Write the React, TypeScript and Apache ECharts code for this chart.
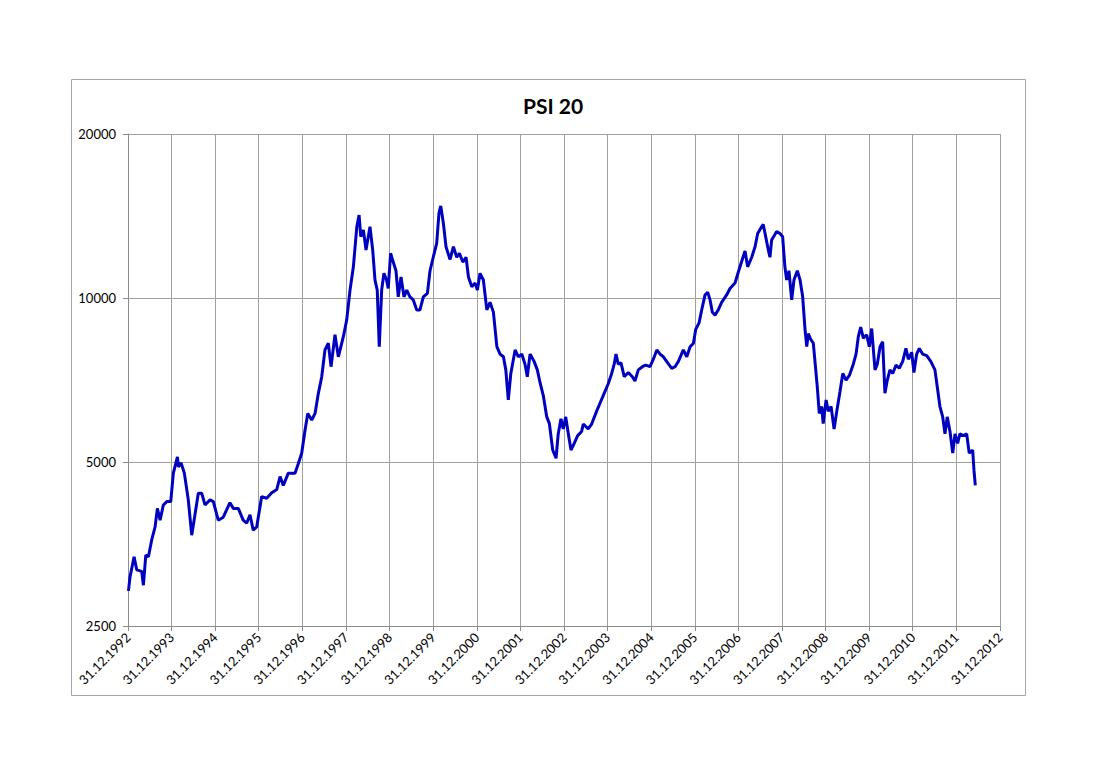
import React, { useEffect, useRef } from "react";
import * as echarts from "echarts";

const chartTitle = "PSI 20";

const yTickValues = [2500, 5000, 10000, 20000];

const xTickYears = [1992, 1993, 1994, 1995, 1996, 1997, 1998, 1999, 2000, 2001, 2002, 2003, 2004, 2005, 2006, 2007, 2008, 2009, 2010, 2011, 2012];

const dates = [
  "1993-01-04", "1993-01-17", "1993-02-20", "1993-03-14", "1993-04-25", "1993-05-09", "1993-05-29", "1993-06-20",
  "1993-07-18", "1993-08-15", "1993-09-03", "1993-09-26", "1993-10-23", "1993-11-21", "1993-12-24",
  "1994-01-15", "1994-02-18", "1994-02-26", "1994-03-21", "1994-04-17", "1994-05-20", "1994-06-18", "1994-07-15",
  "1994-08-12", "1994-09-10", "1994-10-07", "1994-11-18", "1994-12-16",
  "1995-01-26", "1995-03-09", "1995-05-04", "1995-06-01", "1995-07-13", "1995-08-23", "1995-09-21", "1995-10-19",
  "1995-11-15", "1995-12-14",
  "1996-01-25", "1996-03-07", "1996-04-18", "1996-05-30", "1996-06-27", "1996-07-24", "1996-09-04", "1996-10-30",
  "1996-11-27", "1996-12-25",
  "1997-01-22", "1997-02-14", "1997-03-19", "1997-04-16", "1997-05-14", "1997-06-11", "1997-07-08", "1997-08-05",
  "1997-08-28", "1997-09-30", "1997-10-28", "1997-12-09",
  "1998-01-06", "1998-02-03", "1998-03-03", "1998-04-01", "1998-04-20", "1998-05-04", "1998-05-26", "1998-06-17",
  "1998-07-20", "1998-08-12", "1998-08-31", "1998-09-19", "1998-10-06", "1998-10-26", "1998-11-14", "1998-12-06",
  "1998-12-20",
  "1999-01-09", "1999-01-31", "1999-02-23", "1999-03-14", "1999-04-06", "1999-05-01", "1999-05-24", "1999-06-20",
  "1999-07-18", "1999-08-16", "1999-09-12", "1999-10-10", "1999-11-13", "1999-12-05",
  "2000-01-01", "2000-01-30", "2000-02-18", "2000-03-04", "2000-03-26", "2000-04-17", "2000-05-21", "2000-06-18",
  "2000-07-16", "2000-08-07", "2000-09-05", "2000-10-02", "2000-10-22", "2000-11-19", "2000-12-17",
  "2001-01-05", "2001-01-27", "2001-02-24", "2001-03-25", "2001-04-21", "2001-05-19", "2001-06-17", "2001-07-14",
  "2001-08-11", "2001-08-31", "2001-09-21", "2001-10-12", "2001-11-17", "2001-12-14",
  "2002-01-12", "2002-02-08", "2002-02-27", "2002-03-22", "2002-04-25", "2002-05-22", "2002-06-14", "2002-07-11",
  "2002-08-09", "2002-08-31", "2002-09-28", "2002-10-26", "2002-11-13", "2002-12-06", "2002-12-25",
  "2003-01-15", "2003-02-06", "2003-02-28", "2003-03-27", "2003-04-25", "2003-05-28", "2003-06-11", "2003-07-22",
  "2003-08-20", "2003-10-01", "2003-10-29", "2003-11-25",
  "2004-01-06", "2004-02-04", "2004-02-25", "2004-03-11", "2004-03-30", "2004-04-22", "2004-05-19", "2004-06-22",
  "2004-07-26", "2004-08-17", "2004-09-14", "2004-10-18", "2004-11-15", "2004-12-21",
  "2005-01-18", "2005-02-16", "2005-03-15", "2005-04-12", "2005-05-18", "2005-06-21", "2005-07-19", "2005-08-16",
  "2005-09-26", "2005-10-25", "2005-11-22", "2005-12-20",
  "2006-01-08", "2006-02-05", "2006-02-27", "2006-03-27", "2006-04-18", "2006-05-08", "2006-05-27", "2006-06-18",
  "2006-07-16", "2006-08-13", "2006-09-24", "2006-10-22", "2006-12-03", "2006-12-31",
  "2007-02-02", "2007-02-25", "2007-03-19", "2007-04-22", "2007-05-20", "2007-06-11", "2007-07-14", "2007-07-28",
  "2007-08-17", "2007-09-08", "2007-09-22", "2007-10-06", "2007-11-17", "2007-12-15",
  "2008-01-06", "2008-01-25", "2008-02-09", "2008-02-28", "2008-03-22", "2008-04-10", "2008-05-08", "2008-05-31",
  "2008-06-22", "2008-07-12", "2008-07-26", "2008-08-08", "2008-08-28", "2008-09-19", "2008-10-03", "2008-10-22",
  "2008-11-08", "2008-11-28", "2008-12-11",
  "2009-01-04", "2009-01-23", "2009-02-15", "2009-03-12", "2009-04-04", "2009-05-01", "2009-05-24", "2009-06-20",
  "2009-07-18", "2009-08-20", "2009-09-12", "2009-10-01", "2009-10-21", "2009-11-12", "2009-12-10",
  "2010-01-01", "2010-01-21", "2010-02-18", "2010-03-09", "2010-04-01", "2010-04-23", "2010-05-12", "2010-06-01",
  "2010-06-23", "2010-07-16", "2010-08-13", "2010-09-09", "2010-10-08", "2010-11-04", "2010-11-24", "2010-12-22",
  "2011-01-10", "2011-02-02", "2011-02-24", "2011-03-24", "2011-04-27", "2011-05-31", "2011-07-05", "2011-07-24",
  "2011-08-16", "2011-09-08", "2011-09-27", "2011-10-16", "2011-11-08", "2011-12-01", "2011-12-20",
  "2012-01-11", "2012-01-30", "2012-02-27", "2012-03-27", "2012-04-17", "2012-05-16", "2012-05-27", "2012-06-07",
];

const values = [
  2900, 3075, 3350, 3170, 3150, 2970, 3375, 3350,
  3600, 3800, 4110, 3910, 4170, 4230, 4230,
  4770, 5110, 4900, 4980, 4770, 4260, 3670, 4000,
  4380, 4380, 4170, 4260, 4230,
  3910, 3960, 4210, 4110, 4110, 3910, 3860, 4000,
  3750, 3800,
  4320, 4290, 4390, 4450, 4700, 4530, 4770, 4770,
  4970, 5190,
  5720, 6140, 5970, 6140, 6690, 7170, 8030, 8260,
  7480, 8560, 7800, 8490,
  9110, 10340, 11410, 13520, 14200, 12960, 13330, 12250,
  13520, 12250, 10790, 10340, 8140, 10340, 11100, 10790,
  10410,
  12080, 11640, 11220, 10050, 10930, 10050, 10340, 10050,
  9920, 9510, 9510, 10050, 10200, 11220,
  11880, 12600, 14310, 14760, 13720, 12420, 11770, 12420,
  11880, 12080, 11640, 11880, 10930, 10490, 10650,
  10340, 11100, 10790, 9510, 9820, 9420, 8140, 7890,
  7800, 7380, 6500, 7270, 8030, 7800,
  7890, 7560, 7170, 7890, 7650, 7380, 6990, 6620,
  6050, 5880, 5260, 5080, 5630, 6000, 5750,
  6050, 5630, 5260, 5410, 5590, 5690, 5870, 5750,
  5870, 6200, 6410, 6620,
  6960, 7270, 7560, 7890, 7560, 7600, 7170, 7300,
  7170, 7040, 7380, 7480, 7530, 7480,
  7720, 8030, 7890, 7800, 7600, 7430, 7480, 7650,
  8030, 7800, 8140, 8260,
  8760, 9000, 9510, 10130, 10250, 9920, 9420, 9300,
  9510, 9820, 10130, 10410, 10650, 11160,
  11770, 12200, 11410, 11880, 12420, 13130, 13520, 13640,
  12960, 12250, 11880, 12780, 13250, 13130,
  12960, 11410, 10790, 11220, 9920, 10790, 11220, 10790,
  10050, 8740, 8140, 8600, 8400, 8260, 7650, 6880,
  6140, 6320, 5880,
  6500, 6200, 6320, 5750, 6200, 6740, 7270, 7070,
  7210, 7560, 7890, 8490, 8840, 8440, 8560,
  8140, 8790, 7380, 7560, 8140, 8310, 6690, 7070,
  7380, 7270, 7530, 7430, 7650, 8080, 7720, 7950,
  7300, 7890, 8080, 7890, 7840, 7650, 7380, 6880,
  6320, 6050, 5630, 6050, 5690, 5190, 5630,
  5410, 5630, 5590, 5630, 5190, 5260, 4830, 4530,
];

const FONT = "Lato, 'Open Sans', sans-serif";

export default function App() {
  const ref = useRef<HTMLDivElement>(null);

  useEffect(() => {
    document.body.style.margin = "0";
    if (!ref.current) return;
    const chart = echarts.init(ref.current, null, { renderer: "svg" });

    const xTicks = xTickYears.map((y) => new Date(y, 11, 31).getTime());
    const seriesData = dates.map((d, i) => {
      const [yy, mm, dd] = d.split("-").map(Number);
      return [new Date(yy, mm - 1, dd).getTime(), values[i]];
    });

    const pad = (n: number) => (n < 10 ? "0" + n : String(n));

    const option: any = {
      animation: false,
      backgroundColor: "#ffffff",
      title: {
        text: chartTitle,
        left: 548,
        textAlign: "center",
        top: 90,
        textStyle: { fontFamily: FONT, fontSize: 21, fontWeight: "bold", color: "#000" },
      },
      graphic: [
        {
          type: "rect",
          shape: { x: 71.5, y: 79.5, width: 954, height: 616 },
          style: { fill: "none", stroke: "#a6a6a6", lineWidth: 1 },
          silent: true,
          z: -1,
        },
      ],
      grid: { left: 128, top: 134, width: 872, height: 492, containLabel: false },
      xAxis: {
        type: "value",
        min: xTicks[0],
        max: xTicks[xTicks.length - 1],
        axisLine: { show: true, lineStyle: { color: "#8c8c8c", width: 1 } },
        axisTick: { show: true, customValues: xTicks, length: 5, lineStyle: { color: "#8c8c8c" } },
        axisLabel: {
          customValues: xTicks,
          rotate: 45,
          margin: 9,
          fontFamily: FONT,
          fontSize: 13,
          color: "#000",
          formatter: (v: number) => {
            const d = new Date(v);
            return pad(d.getDate()) + "." + pad(d.getMonth() + 1) + "." + d.getFullYear();
          },
        },
        splitLine: { show: true, lineStyle: { color: "#a0a0a0", width: 1 } },
      },
      yAxis: {
        type: "log",
        logBase: 2,
        min: 2500,
        max: 20000,
        axisLine: { show: true, lineStyle: { color: "#8c8c8c", width: 1 } },
        axisTick: { show: true, customValues: yTickValues, length: 5, lineStyle: { color: "#8c8c8c" } },
        axisLabel: {
          customValues: yTickValues,
          margin: 12,
          fontFamily: FONT,
          fontSize: 13,
          color: "#000",
          formatter: (v: number) => String(Math.round(v)),
        },
        splitLine: { show: true, lineStyle: { color: "#a0a0a0", width: 1 } },
      },
      series: [
        {
          type: "line",
          data: seriesData,
          showSymbol: false,
          symbol: "none",
          lineStyle: { color: "#0000c0", width: 3 },
          itemStyle: { color: "#0000c0" },
        },
      ],
    };

    chart.setOption(option);
    return () => chart.dispose();
  }, []);

  return <div ref={ref} style={{ width: 1100, height: 778 }} />;
}
